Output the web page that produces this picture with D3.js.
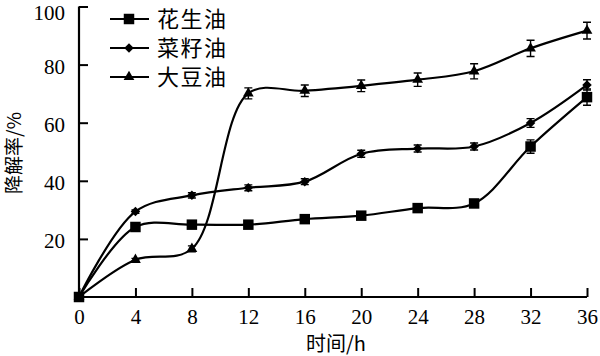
<!DOCTYPE html>
<html><head><meta charset="utf-8">
<script src="https://cdn.jsdelivr.net/npm/d3@7"></script>
<style>body{margin:0;background:#fff}svg{display:block}</style>
</head><body>
<svg id="c" width="600" height="356"></svg>
<script>
const times = [0, 4, 8, 12, 16, 20, 24, 28, 32, 36];
const seriesNames = ["花生油", "菜籽油", "大豆油"];
const peanut = [0, 24.1, 24.9, 24.9, 26.8, 28, 30.6, 32.2, 51.8, 68.8];
const rapeseed = [0, 29.4, 35, 37.6, 39.7, 49.3, 51.1, 51.8, 59.9, 73];
const soybean = [0, 12.8, 16.6, 70.1, 71, 72.7, 74.8, 77.7, 85.6, 91.7];
const peanutErr = [0, 0.6, 0.6, 0.6, 0.6, 0.6, 0.8, 0.8, 2.3, 2.8];
const rapeseedErr = [0, 0.6, 0.9, 1.0, 1.0, 1.2, 1.2, 1.2, 1.5, 1.8];
const soybeanErr = [0, 0.5, 1.0, 1.9, 2.0, 2.0, 2.3, 2.6, 2.8, 2.9];
const xTicks = [0, 4, 8, 12, 16, 20, 24, 28, 32, 36];
const yTicks = [20, 40, 60, 80, 100];

const series = [
  {name: seriesNames[0], vals: peanut, err: peanutErr, sym: "square"},
  {name: seriesNames[1], vals: rapeseed, err: rapeseedErr, sym: "diamond"},
  {name: seriesNames[2], vals: soybean, err: soybeanErr, sym: "triangle"}
];

const svg = d3.select("#c");
const x = d3.scaleLinear().domain([0, 36]).range([79, 587]);
const y = d3.scaleLinear().domain([0, 100]).range([297, 6.5]);
const serif = "'Liberation Serif','Times New Roman',serif";
const cjk = "'Noto Sans CJK SC','Noto Sans',sans-serif";

// axes
const xAxis = svg.append("g").attr("transform", `translate(0,${y(0)})`)
  .call(d3.axisBottom(x).tickValues(xTicks).tickSize(-9).tickPadding(14).tickFormat(d3.format("d")));
const yAxis = svg.append("g").attr("transform", `translate(${x(0)},0)`)
  .call(d3.axisLeft(y).tickValues(yTicks).tickSize(-9).tickPadding(14).tickFormat(d3.format("d")));
[xAxis, yAxis].forEach(a => {
  a.select(".domain").attr("stroke", "#000").attr("stroke-width", 2.2);
  a.selectAll(".tick line").attr("stroke", "#000").attr("stroke-width", 2);
  a.selectAll("text").attr("font-family", serif).attr("font-size", 21).attr("fill", "#000");
});
xAxis.select(".domain").attr("d", `M${x(0)},0H${x(36)}`);
yAxis.select(".domain").attr("d", `M0,${y(0)}V${y(100)}`);
xAxis.selectAll("text").attr("dy", "0.71em").attr("y", 12);
yAxis.selectAll("text").attr("x", -14).attr("dy", d => d === 100 ? "0.6em" : "0.42em");

// axis titles
svg.append("text").attr("x", 336).attr("y", 351).attr("text-anchor", "middle")
  .attr("font-family", cjk).attr("font-size", 20).attr("fill", "#000")
  .text("时间/h");
svg.append("text").attr("transform", "translate(12,153) rotate(-90)")
  .attr("text-anchor", "middle").attr("dominant-baseline", "central")
  .attr("font-family", cjk).attr("font-size", 19).attr("fill", "#000")
  .text("降解率/%");

const symType = {square: d3.symbolSquare, diamond: d3.symbolSquare, triangle: d3.symbolTriangle};
const symSize = {square: 110, diamond: 45, triangle: 50};
const symRot = {square: 0, diamond: 45, triangle: 0};

const line = d3.line().x((d, i) => x(times[i])).y(d => y(d)).curve(d3.curveCatmullRom.alpha(0.5));

series.forEach(s => {
  const g = svg.append("g");
  g.append("path").attr("d", line(s.vals)).attr("fill", "none").attr("stroke", "#000").attr("stroke-width", 2.2);
  s.vals.forEach((v, i) => {
    const e = s.err[i];
    if (e > 0) {
      const cx = x(times[i]), y1 = y(v - e), y2 = y(v + e);
      g.append("path").attr("d", `M${cx},${y1}V${y2}M${cx-4},${y1}H${cx+4}M${cx-4},${y2}H${cx+4}`)
        .attr("stroke", "#000").attr("stroke-width", 1.4).attr("fill", "none");
    }
    g.append("path").attr("d", d3.symbol().type(symType[s.sym]).size(symSize[s.sym])())
      .attr("transform", `translate(${x(times[i])},${y(v)}) rotate(${symRot[s.sym]})`).attr("fill", "#000");
  });
});

// legend
const legY = [19, 48, 77];
series.forEach((s, i) => {
  const g = svg.append("g").attr("transform", `translate(0,${legY[i]})`);
  g.append("line").attr("x1", 110).attr("x2", 149).attr("y1", 0).attr("y2", 0).attr("stroke", "#000").attr("stroke-width", 2.2);
  g.append("path").attr("d", d3.symbol().type(symType[s.sym]).size(symSize[s.sym])())
    .attr("transform", `translate(129,0) rotate(${symRot[s.sym]})`).attr("fill", "#000");
  g.append("text").attr("x", 157).attr("y", 0).attr("dy", "0.36em")
    .attr("font-family", cjk).attr("font-size", 22).attr("letter-spacing", 1.5).attr("fill", "#000")
    .text(s.name);
});
</script>
</body></html>
